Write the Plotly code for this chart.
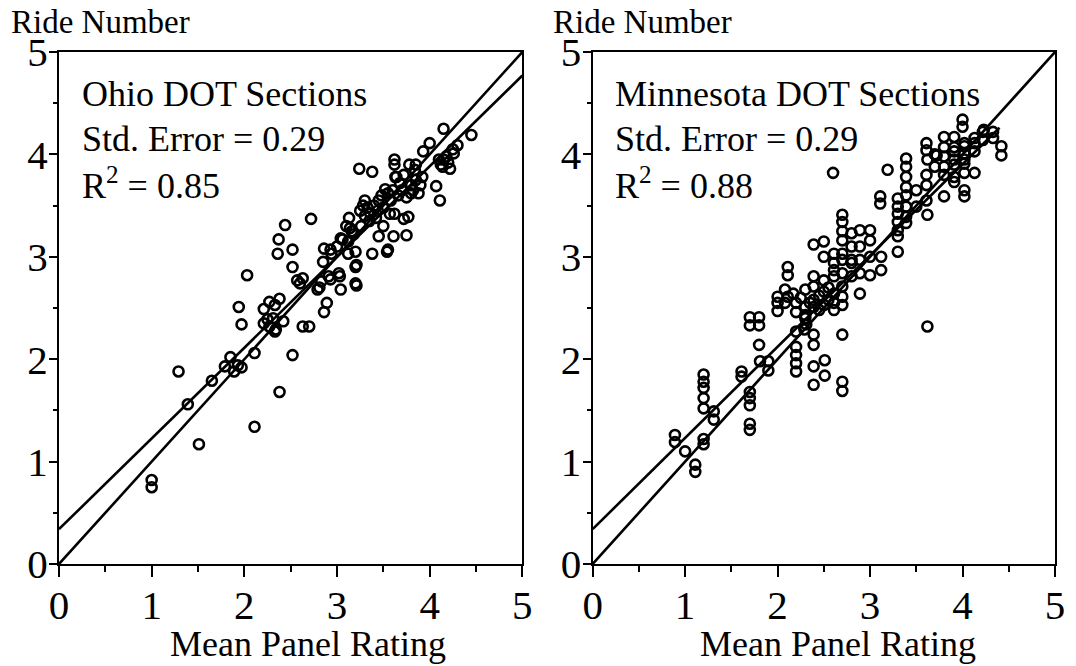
import plotly.graph_objects as go
from plotly.subplots import make_subplots

# ---------------- data ----------------
ohio_x = [1.00, 1.00, 1.29, 1.39, 1.51, 1.65, 1.79, 1.85, 1.89, 1.97, 1.93, 2.11, 2.11, 2.38, 2.52,
          1.94, 1.97, 2.03, 2.21, 2.25, 2.27, 2.33, 2.34, 2.42, 2.63, 2.70, 2.86, 2.89, 2.27, 2.38, 2.33, 2.21, 2.31,
          2.37, 2.36, 2.44, 2.72, 2.52, 2.52, 2.57, 2.63, 2.60, 2.86, 2.85, 2.94, 2.83, 2.81, 2.79, 2.91, 3.03, 3.04,
          3.02, 2.93, 2.93, 3.04, 3.13, 3.14, 3.12, 3.21, 3.21, 3.20, 3.20, 3.20, 3.18, 3.06,
          3.24, 3.38, 3.38, 3.55, 3.54, 3.62, 3.62, 3.63, 3.57, 3.62, 3.72, 3.75, 3.61, 3.77, 3.52, 3.64, 3.78, 3.84,
          3.85, 3.93, 4.00, 4.15, 4.45, 4.07, 4.11, 4.12, 4.15, 4.26, 4.30, 4.20, 4.22,
          3.25, 3.28, 3.30, 3.33, 3.36, 3.40, 3.44, 3.30, 3.35, 3.42, 3.45, 3.48, 3.50, 3.55, 3.58, 3.60, 3.66, 3.70,
          3.75, 3.80, 3.82, 3.85, 3.88, 3.90, 3.72, 3.68, 3.80, 3.92, 4.10, 4.14, 4.18, 4.25, 3.12, 3.16, 3.26, 3.10,
          3.00, 3.45, 3.50]
ohio_y = [0.82, 0.75, 1.88, 1.56, 1.17, 1.79, 1.93, 2.02, 1.88, 1.92, 1.94, 1.34, 2.06, 1.68, 2.04,
          2.51, 2.34, 2.82, 2.35, 2.39, 2.32, 2.27, 2.29, 2.37, 2.32, 2.32, 2.46, 2.55, 2.56, 2.59, 2.53, 2.49, 2.40,
          3.17, 3.03, 3.31, 3.37, 3.07, 2.90, 2.77, 2.79, 2.74, 3.08, 2.95, 3.03, 2.76, 2.70, 2.68, 2.81, 2.81, 2.68,
          2.84, 2.78, 3.07, 3.18, 3.38, 3.28, 3.03, 2.92, 2.72, 3.05, 2.90, 2.74, 3.22, 3.17,
          3.86, 3.83, 3.03, 3.07, 3.05, 3.95, 3.90, 3.78, 3.42, 3.42, 3.37, 3.21, 3.20, 3.39, 3.66, 3.78, 3.90, 3.85,
          3.90, 4.03, 4.11, 4.25, 4.19, 3.69, 3.55, 3.90, 3.95, 4.01, 4.09, 3.92, 3.86,
          3.45, 3.50, 3.40, 3.48, 3.42, 3.50, 3.45, 3.55, 3.35, 3.38, 3.55, 3.60, 3.48, 3.62, 3.55, 3.65, 3.60, 3.65,
          3.58, 3.70, 3.65, 3.75, 3.62, 3.70, 3.80, 3.72, 3.62, 3.78, 3.95, 3.88, 3.98, 4.05, 3.15, 3.25, 3.30, 3.30,
          3.10, 3.20, 3.30]

minn_x = [0.89, 0.89, 1.00, 1.11, 1.11,
          1.20, 1.20, 1.20, 1.20, 1.20, 1.20, 1.20,
          1.31, 1.31,
          1.61, 1.61, 1.70, 1.70, 1.70, 1.70, 1.70,
          1.70, 1.70, 1.80, 1.80, 1.80, 1.81, 1.90, 1.90,
          2.00, 2.00, 2.00, 2.11, 2.11, 2.08, 2.11, 2.17, 2.20, 2.20, 2.20, 2.20, 2.20, 2.20,
          2.30, 2.30, 2.30, 2.30, 2.31, 2.29,
          2.39, 2.39, 2.39, 2.39, 2.39, 2.39, 2.39, 2.39, 2.39,
          2.50, 2.50, 2.50, 2.50, 2.51, 2.51, 2.50,
          2.60, 2.61, 2.61, 2.61, 2.61, 2.61, 2.61, 2.61,
          2.70, 2.70, 2.70, 2.70, 2.70, 2.70, 2.70, 2.70, 2.70, 2.70, 2.70, 2.70, 2.70,
          2.80, 2.80, 2.80, 2.80, 2.80,
          2.89, 2.89, 2.89, 2.89, 2.89,
          3.00, 3.00, 3.00, 3.00,
          3.12, 3.12, 3.11, 3.11, 3.19,
          3.30, 3.30, 3.30, 3.30, 3.30, 3.30, 3.30,
          3.39, 3.39, 3.39, 3.39, 3.39, 3.39, 3.39, 3.39,
          3.50, 3.50,
          3.61, 3.61, 3.61, 3.62, 3.61, 3.61, 3.62, 3.62,
          3.70, 3.70, 3.72,
          3.80, 3.80, 3.80, 3.80, 3.80, 3.80,
          3.91, 3.91, 3.91, 3.91, 3.91, 3.91, 3.91,
          4.00, 4.00, 4.02, 4.02, 4.02, 4.02, 4.02, 4.02, 4.02, 4.02,
          4.13, 4.13, 4.13, 4.13,
          4.22, 4.22, 4.23, 4.33, 4.33, 4.42, 4.42,
          2.20, 2.25, 2.35, 2.45, 2.45, 2.55, 2.55, 2.08]
minn_y = [1.26, 1.19, 1.10, 0.97, 0.90,
          1.85, 1.78, 1.72, 1.62, 1.52, 1.22, 1.17,
          1.49, 1.41,
          1.88, 1.83, 1.68, 1.62, 1.55, 1.37, 1.31,
          2.41, 2.33, 2.41, 2.33, 2.14, 1.98, 1.98, 1.89,
          2.61, 2.55, 2.47, 2.90, 2.82, 2.68, 2.61, 2.64, 2.46, 2.27, 2.12, 2.04, 1.96, 1.88,
          2.68, 2.51, 2.43, 2.40, 2.34, 2.29,
          2.81, 2.71, 2.58, 2.51, 2.24, 2.14, 1.93, 1.75, 3.12,
          3.15, 3.00, 2.77, 2.66, 1.99, 1.84, 2.53,
          3.82, 3.03, 2.94, 2.87, 2.81, 2.64, 2.55, 2.48,
          3.41, 3.34, 3.25, 3.16, 3.03, 2.97, 2.84, 2.71, 2.61, 2.53, 2.24, 1.78, 1.69,
          3.23, 3.10, 2.97, 2.81, 2.94,
          3.26, 3.10, 2.97, 2.84, 2.64,
          3.26, 3.16, 3.00, 2.82,
          3.00, 2.87, 3.59, 3.52, 3.85,
          3.57, 3.49, 3.42, 3.34, 3.26, 3.20, 3.05,
          3.96, 3.88, 3.78, 3.68, 3.60, 3.49, 3.39, 3.33,
          3.65, 3.49,
          3.80, 3.70, 3.55, 3.41, 4.11, 4.04, 3.95, 2.32,
          4.00, 3.88, 3.99,
          4.17, 4.07, 3.98, 3.88, 3.80, 3.59,
          4.17, 4.07, 3.95, 3.78, 3.73, 4.03, 3.90,
          4.34, 4.27, 4.11, 4.01, 3.91, 3.82, 3.65, 3.59, 3.95, 4.08,
          4.11, 4.03, 3.82, 4.16,
          4.22, 4.14, 4.24, 4.22, 4.16, 4.08, 3.99,
          2.55, 2.60, 2.55, 2.48, 2.62, 2.58, 2.70, 2.55]

# equality line and fitted lines (end points in data units)
eq_x = [0, 5]
eq_y = [0, 5]
ohio_fit_x = [0, 5]
ohio_fit_y = [0.34, 4.77]
minn_fit_x = [0, 4.4]
minn_fit_y = [0.34, 4.26]

panel_titles = ["Ohio DOT Sections", "Minnesota DOT Sections"]
std_errors = ["Std. Error = 0.29", "Std. Error = 0.29"]
r2_texts = ["R<sup>2</sup> = 0.85", "R<sup>2</sup> = 0.88"]
y_title = "Ride Number"
x_title = "Mean Panel Rating"
tick_vals = [0, 1, 2, 3, 4, 5]

# ---------------- figure ----------------
FONT = "'Liberation Serif', 'Times New Roman', Times, serif"
W, H = 1076, 666
ML, MR, MT, MB = 59, 11, 52, 102
pw = W - ML - MR
ph = H - MT - MB

fig = make_subplots(rows=1, cols=2, horizontal_spacing=0.0716)

def px2paper(px, py):
    return (px - ML) / pw, (H - MB - py) / ph

marker = dict(symbol="circle-open", size=10, color="black", line=dict(width=2.6, color="black"))
line_style = dict(color="black", width=2.6)

for col, (xs, ys, fx, fy) in enumerate([(ohio_x, ohio_y, ohio_fit_x, ohio_fit_y),
                                        (minn_x, minn_y, minn_fit_x, minn_fit_y)], start=1):
    fig.add_trace(go.Scatter(x=eq_x, y=eq_y, mode="lines", line=line_style,
                             showlegend=False, hoverinfo="skip"), row=1, col=col)
    fig.add_trace(go.Scatter(x=fx, y=fy, mode="lines", line=line_style,
                             showlegend=False, hoverinfo="skip"), row=1, col=col)
    fig.add_trace(go.Scatter(x=xs, y=ys, mode="markers", marker=marker,
                             showlegend=False), row=1, col=col)

axis_common = dict(range=[0, 5], showgrid=False, zeroline=False, showline=True,
                   linecolor="black", linewidth=2.2, mirror=True,
                   tickvals=tick_vals, ticks="outside", tickcolor="black", tickwidth=2,
                   tickfont=dict(family=FONT, size=41, color="black"),
                   minor=dict(dtick=0.5, ticks="outside", ticklen=6, tickcolor="black", tickwidth=2))

fig.update_xaxes(**axis_common, ticklen=11, ticklabelstandoff=-7)
fig.update_yaxes(**axis_common, ticklen=8, ticklabelstandoff=-7)
fig.update_yaxes(minor=dict(ticklen=4))
fig.update_xaxes(domain=[0, (527 - ML) / pw], row=1, col=1)
fig.update_xaxes(domain=[(598 - ML) / pw, 1], row=1, col=2)

ann = []
for i, (x0_title, x_center, x_text) in enumerate([(8, 310, 80), (556, 846, 619)]):
    ax, ay = px2paper(x0_title, 22)
    ann.append(dict(text=y_title, x=ax, y=ay, xref="paper", yref="paper",
                    xanchor="left", yanchor="middle", showarrow=False,
                    font=dict(family=FONT, size=33, color="black")))
    ax, ay = px2paper(x_center, 644)
    ann.append(dict(text=x_title, x=ax, y=ay, xref="paper", yref="paper",
                    xanchor="center", yanchor="middle", showarrow=False,
                    font=dict(family=FONT, size=36, color="black")))
    for txt, yc in [(panel_titles[i], 94), (std_errors[i], 139)]:
        ax, ay = px2paper(x_text, yc)
        ann.append(dict(text=txt, x=ax, y=ay, xref="paper", yref="paper",
                        xanchor="left", yanchor="middle", showarrow=False,
                        font=dict(family=FONT, size=36, color="black")))
    ax, ay = px2paper(x_text, 208)
    ann.append(dict(text=r2_texts[i], x=ax, y=ay, xref="paper", yref="paper",
                    xanchor="left", yanchor="bottom", showarrow=False,
                    font=dict(family=FONT, size=36, color="black")))

fig.update_layout(width=W, height=H, margin=dict(l=ML, r=MR, t=MT, b=MB),
                  paper_bgcolor="white", plot_bgcolor="white",
                  annotations=ann, showlegend=False)

fig.write_html("out.html")
